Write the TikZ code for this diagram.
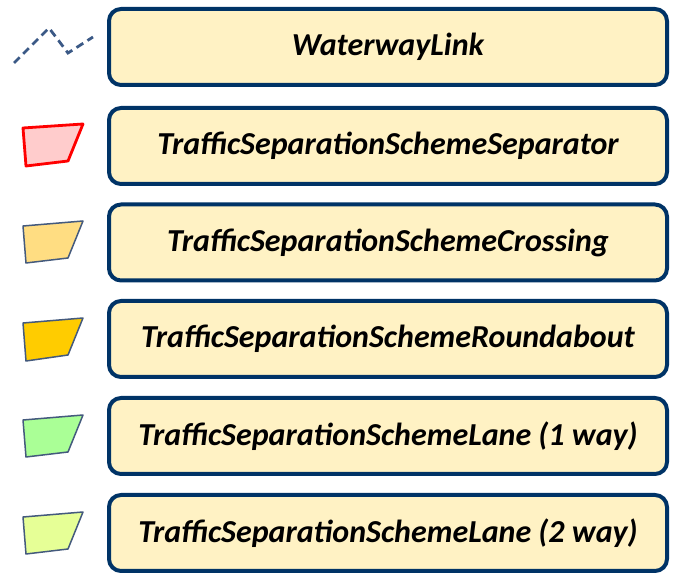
\documentclass[tikz,border=0pt]{standalone}
\usepackage{fontspec}
\setmainfont{Carlito}
\begin{document}
\begin{tikzpicture}[x=1pt,y=-1pt,
  box/.style={draw=boxline, line width=4pt, fill=boxfill, rounded corners=12pt, minimum width=558pt, minimum height=76pt, inner sep=0pt, font=\fontsize{32}{36}\selectfont\bfseries\itshape, anchor=center},
  icon/.style={draw=iconline, line width=1.5pt, line join=round}]
\definecolor{boxline}{RGB}{0,51,102}
\definecolor{boxfill}{RGB}{255,242,196}
\definecolor{iconline}{RGB}{68,90,125}
\definecolor{linkcol}{RGB}{59,89,134}
\definecolor{sepfill}{RGB}{255,204,204}
\definecolor{crossfill}{RGB}{255,221,130}
\definecolor{roundfill}{RGB}{255,204,0}
\definecolor{lane1fill}{RGB}{170,255,150}
\definecolor{lane2fill}{RGB}{230,255,150}
\useasboundingbox (0,0) rectangle (673,577);
\node[box] (b1) at (388,47) {WaterwayLink};
\node[box] (b2) at (388,146) {TrafficSeparationSchemeSeparator};
\node[box] (b3) at (388,242.5) {TrafficSeparationSchemeCrossing};
\node[box] (b4) at (388,339) {TrafficSeparationSchemeRoundabout};
\node[box] (b5) at (388,436) {TrafficSeparationSchemeLane (1 way)};
\node[box] (b6) at (388,533) {TrafficSeparationSchemeLane (2 way)};
\draw[linkcol, line width=2.8pt, dash pattern=on 8pt off 5pt] (14,63) -- (49,28) -- (68,53) -- (93,37);
\draw[draw=red, line width=2.8pt, line join=round, fill=sepfill] (23,128) -- (83,124) -- (68,161) -- (26,166) -- cycle;
\draw[icon, fill=crossfill] (23,226) -- (83,221) -- (68,258) -- (26,263) -- cycle;
\draw[icon, fill=roundfill] (23,323) -- (83,318) -- (68,355) -- (26,361) -- cycle;
\draw[icon, fill=lane1fill] (23,420) -- (83,415) -- (68,452) -- (26,457) -- cycle;
\draw[icon, fill=lane2fill] (23,517) -- (83,512) -- (68,549) -- (26,554) -- cycle;
\end{tikzpicture}
\end{document}
